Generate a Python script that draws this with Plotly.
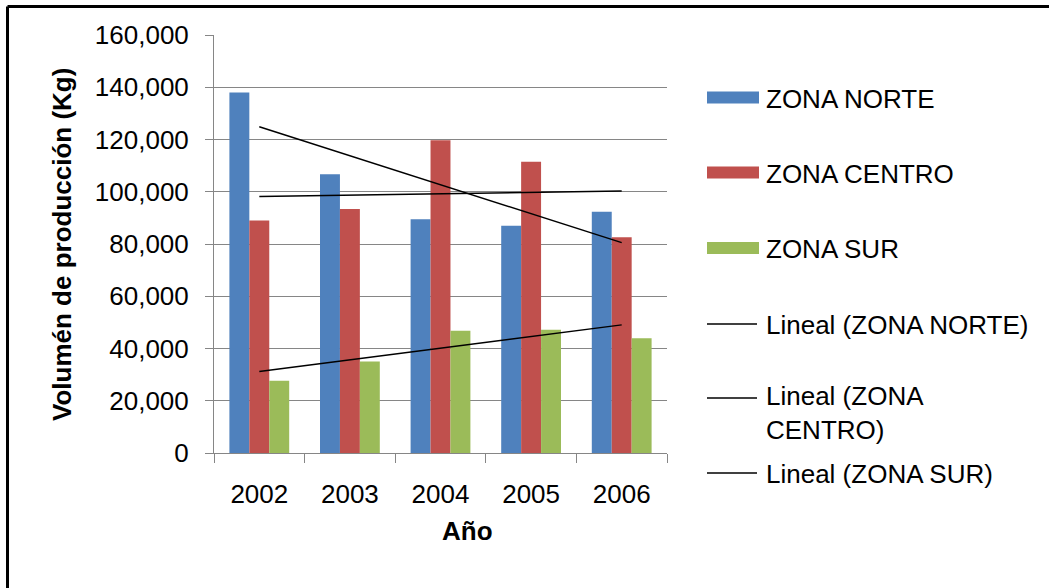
import numpy as np
import plotly.graph_objects as go

# Production volume (Kg) per zone and year
years = ["2002", "2003", "2004", "2005", "2006"]
zona_norte = [138000, 106700, 89450, 87000, 92370]
zona_centro = [89000, 93400, 119700, 111500, 82550]
zona_sur = [27700, 35000, 46800, 47200, 43900]

series_names = ["ZONA NORTE", "ZONA CENTRO", "ZONA SUR"]
series_colors = ["#4F81BD", "#C0504D", "#9BBB59"]
y_ticks = [0, 20000, 40000, 60000, 80000, 100000, 120000, 140000, 160000]

FONT = "Liberation Sans, Arial, sans-serif"
FS = 26

# Plot-area geometry in pixels (used for placing the legend and frame)
W, H = 1049, 588
L, R, T, B = 214, 667, 35, 453


def px_x(px):
    return (px - L) / (R - L)


def px_y(py):
    return (B - py) / (B - T)


fig = go.Figure()

for name, vals, col in zip(series_names, [zona_norte, zona_centro, zona_sur], series_colors):
    fig.add_trace(go.Bar(x=years, y=vals, name=name, marker=dict(color=col, line=dict(width=0)),
                         showlegend=False))

# Linear trend lines, fitted over the year index
idx = np.arange(len(years))
for vals in [zona_norte, zona_centro, zona_sur]:
    slope, inter = np.polyfit(idx, vals, 1)
    ends = [inter + slope * idx[0], inter + slope * idx[-1]]
    fig.add_trace(go.Scatter(x=[years[0], years[-1]], y=ends, mode="lines",
                             line=dict(color="black", width=1.5), showlegend=False))

# Hand-drawn legend: wide swatches for bars, short lines for trends
shapes = []
annotations = []
legend_bars = [(97.5, "ZONA NORTE", series_colors[0]),
               (172.5, "ZONA CENTRO", series_colors[1]),
               (248.0, "ZONA SUR", series_colors[2])]
for cy, label, col in legend_bars:
    shapes.append(dict(type="rect", xref="paper", yref="paper",
                       x0=px_x(707), x1=px_x(759), y0=px_y(cy + 6), y1=px_y(cy - 6),
                       fillcolor=col, line=dict(width=0)))
    annotations.append(dict(text=label, xref="paper", yref="paper", x=px_x(764), y=px_y(cy + 1),
                            xanchor="left", yanchor="middle", showarrow=False,
                            font=dict(family=FONT, size=FS, color="black")))

legend_lines = [(324, 325, "Lineal (ZONA NORTE)"),
                (398, 413, "Lineal (ZONA<br>CENTRO)"),
                (473, 474, "Lineal (ZONA SUR)")]
for ly, ty, label in legend_lines:
    shapes.append(dict(type="line", xref="paper", yref="paper",
                       x0=px_x(707), x1=px_x(757), y0=px_y(ly), y1=px_y(ly),
                       line=dict(color="black", width=1.5)))
    annotations.append(dict(text=label, xref="paper", yref="paper", x=px_x(764), y=px_y(ty),
                            xanchor="left", yanchor="middle", showarrow=False, align="left",
                            font=dict(family=FONT, size=FS, color="black")))

# Axis titles
annotations.append(dict(text="<b>Volumén de producción (Kg)</b>", xref="paper", yref="paper",
                        x=px_x(62), y=px_y(245), textangle=-90, showarrow=False,
                        xanchor="center", yanchor="middle",
                        font=dict(family=FONT, size=FS, color="black")))
annotations.append(dict(text="<b>Año</b>", xref="paper", yref="paper",
                        x=px_x(467), y=px_y(531), showarrow=False,
                        xanchor="center", yanchor="middle",
                        font=dict(family=FONT, size=FS, color="black")))

# Outer frame (top and left edges)
shapes.append(dict(type="line", xref="paper", yref="paper", x0=px_x(7.5), x1=px_x(1070),
                   y0=px_y(6.5), y1=px_y(6.5), line=dict(color="black", width=3)))
shapes.append(dict(type="line", xref="paper", yref="paper", x0=px_x(7.5), x1=px_x(7.5),
                   y0=px_y(6.5), y1=px_y(620), line=dict(color="black", width=3)))

fig.update_layout(
    width=W, height=H,
    margin=dict(l=L, r=W - R, t=T, b=H - B),
    paper_bgcolor="white", plot_bgcolor="white",
    barmode="group", bargap=0.34, bargroupgap=0,
    showlegend=False,
    shapes=shapes, annotations=annotations,
    font=dict(family=FONT, size=FS, color="black"),
    xaxis=dict(type="category", showgrid=False, showline=True, linecolor="#868686", linewidth=1,
               ticks="outside", tickson="boundaries", ticklen=9, tickcolor="#868686",
               tickfont=dict(family=FONT, size=FS, color="black"), ticklabelstandoff=18),
    yaxis=dict(range=[0, 160000], tickvals=y_ticks, tickformat=",d",
               showgrid=True, gridcolor="#868686", gridwidth=1,
               showline=True, linecolor="#868686", linewidth=1,
               ticks="outside", ticklen=8, tickcolor="#868686", zeroline=False,
               tickfont=dict(family=FONT, size=FS, color="black"), ticklabelstandoff=11),
)

fig.write_html("out.html")
